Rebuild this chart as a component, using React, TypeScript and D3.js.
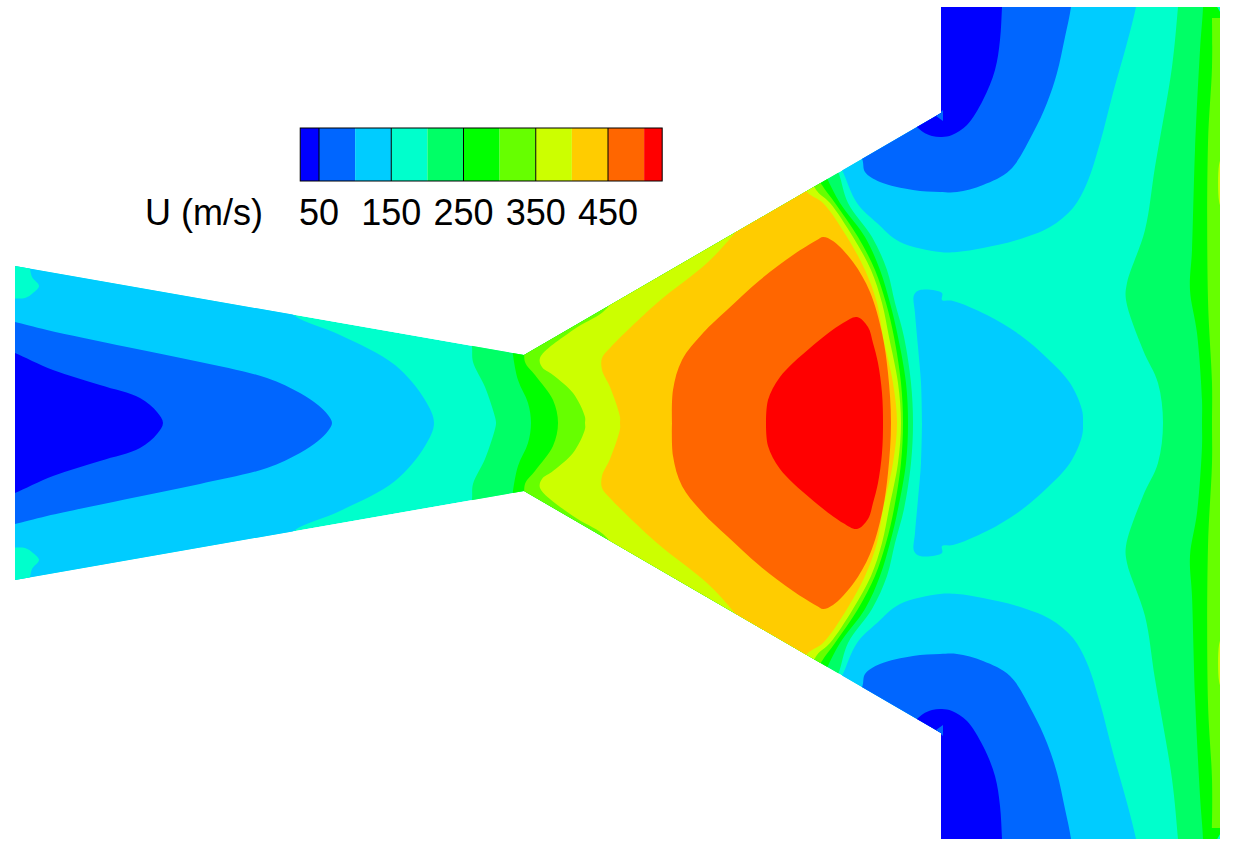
import React from "react";
import * as d3 from "d3";

type P = [number, number];

// Legend
const levelColors = ["#0000ff","#0066ff","#00ccff","#00ffcc","#00ff66","#00ff00","#66ff00","#ccff00","#ffcc00","#ff6600","#ff0000"];
const levelEdges = [24,50,100,150,200,250,300,350,400,450,500,525];
const tickValues = [50,150,250,350,450];

// Upper half of the symmetric duct: axial position, radial position (r = 0 on the axis)
const wall: P[] = [[15,157],[524,68],[941,310],[941,416],[1220,416]];

// Contours in the converging inlet
const inlet150: P[] = [[285,118],[295,107],[340,88],[395,58],[425,23],[434,0]];
const inlet100: P[] = [[5,103],[15,101],[47,93],[127,76],[200,61],[267,45],[300,30],[318,18],[328,8],[332,0]];
const inlet50: P[] = [[5,74],[15,70],[53,53],[100,38],[140,25],[157,11],[163,0]];
const inletCorner: P[] = [[10,165],[28,158],[32,146],[39,137],[33,130],[25,125],[10,125]];

// Contours rising through the throat (left flank of each level)
const rise200: P[] = [[470,90],[472,76],[473,61],[485,36],[495,6],[496,0]];
const rise250: P[] = [[512,80],[513,68],[518,43],[528,20],[531,0]];
const rise300: P[] = [[525,80],[525,61],[535,48],[553,23],[558,0]];
const rise350: P[] = [[615,125],[603,111],[573,93],[540,65],[542,56],[553,48],[573,30],[585,6],[585,0]];
const rise400: P[] = [[745,205],[733,188],[707,160],[657,120],[610,75],[602,65],[602,53],[610,36],[620,6],[620,0]];

// Same levels falling across the shock (right flank)
const shock200: P[] = [[832,265],[839,249],[848,220],[872,186],[887,153],[895,120],[904,86],[911,40],[913,0]];
const shock250: P[] = [[820,262],[827,245],[840,220],[865,186],[880,153],[890,120],[898,86],[906,40],[908,0]];
const shock300: P[] = [[813,255],[822,238],[835,220],[858,186],[875,153],[886,120],[894,86],[901,40],[903,0]];
const shock350: P[] = [[808,250],[817,232],[830,220],[853,186],[871,153],[882,120],[889,86],[898,40],[901,0]];
const shock400: P[] = [[798,245],[808,230],[823,220],[847,186],[865,153],[877,120],[883,86],[893,40],[897,0]];

// Closed cores
const core450: P[] = [[672,0],[673,33],[682,63],[703,90],[727,113],[760,143],[793,168],[817,183],[823,186],[833,182],[853,161],[870,131],[882,90],[888,50],[891,0]];
const core500: P[] = [[766,0],[768,23],[780,46],[810,75],[843,100],[857,106],[868,96],[873,80],[878,60],[882,30],[883,0]];
const bubble150: P[] = [[922,0],[921,40],[918,76],[915,110],[914,128],[920,133],[942,130],[942,123],[953,122],[987,108],[1020,88],[1047,65],[1070,40],[1082,13],[1083,0]];

// Recirculation zones behind the step
const zone150: P[] = [[835,265],[842,253],[857,220],[877,200],[900,181],[940,171],[957,171],[983,175],[1017,183],[1050,196],[1073,215],[1087,240],[1100,280],[1113,330],[1127,380],[1136,416],[1140,440]];
const zone100: P[] = [[855,270],[862,264],[865,251],[880,241],[913,233],[940,231],[957,231],[983,238],[1010,253],[1033,290],[1047,320],[1057,350],[1065,386],[1071,416],[1073,440]];
const zone50: P[] = [[912,300],[918,295],[923,291],[932,287],[942,286],[952,288],[967,298],[983,323],[995,353],[1000,383],[1002,416],[1003,440]];
const zoneNotch: P[] = [[936,307],[943,313],[943,302]];

// Outlet contours
const outlet200: P[] = [[1180,440],[1178,416],[1172,356],[1155,256],[1145,193],[1127,140],[1126,123],[1143,73],[1158,40],[1163,0]];
const outlet250: P[] = [[1203,440],[1203,416],[1200,373],[1195,273],[1192,173],[1190,133],[1197,90],[1202,23],[1202,0]];
const outlet300: P[] = [[1212,405],[1212,356],[1208,280],[1208,123],[1212,40],[1212,0]];
const outlet350: P[] = [[1222,268],[1219,258],[1219,222],[1222,212]];
const outletCorner: P[] = [[1216,418],[1222,418],[1222,408]];

const xS = d3.scaleLinear().domain([15, 1220]).range([15, 1220]);
const yS = d3.scaleLinear().domain([-416, 416]).range([839, 7]);
const legendX = d3.scaleLinear().domain([50, 450]).range([319, 608]);

const curve = d3.line<P>().x(d => xS(d[0])).y(d => yS(d[1])).curve(d3.curveCatmullRom.alpha(0.5));
const poly = d3.line<P>().x(d => xS(d[0])).y(d => yS(d[1]));
const blob = d3.line<P>().x(d => xS(d[0])).y(d => yS(d[1])).curve(d3.curveCatmullRomClosed.alpha(0.5));

const flip = (a: P[]): P[] => a.map(([x, r]) => [x, -r] as P);
// upper half, then its mirror image, running through the axis
const full = (half: P[]): P[] => [...half, ...flip(half.slice(0, -1)).reverse()];

const band = (left: P[], right: P[]) => {
  const l = curve(full(left))!;
  const r = curve(full(right).slice().reverse())!;
  return l + "L" + r.slice(1) + "Z";
};
const closeLeft = (c: P[]) => curve(full(c))! + "L" + xS(0) + "," + yS(-450) + "L" + xS(0) + "," + yS(450) + "Z";
const closeRight = (c: P[]) => {
  const f = full(c);
  return curve(f)! + "L" + xS(1235) + "," + yS(f[f.length - 1][1]) + "L" + xS(1235) + "," + yS(f[0][1]) + "Z";
};
const corner = (c: P[]) => {
  const first = c[0], last = c[c.length - 1];
  return curve(c)! + "L" + xS(first[0]) + "," + yS(last[1]) + "Z";
};
const both = (c: P[], fn: (c: P[]) => string) => fn(c) + fn(flip(c));

const C = {
  c50: levelColors[0], c100: levelColors[1], c150: levelColors[2], c200: levelColors[3],
  c250: levelColors[4], c300: levelColors[5], c350: levelColors[6], c400: levelColors[7],
  c450: levelColors[8], c500: levelColors[9], c550: levelColors[10],
};

const layers: [string, string][] = [
  [closeLeft(inlet150), C.c150],
  [both(inletCorner, c => curve(c)! + "Z"), C.c200],
  [closeLeft(inlet100), C.c100],
  [closeLeft(inlet50), C.c50],
  [band(rise200, shock200), C.c250],
  [band(rise250, shock250), C.c300],
  [band(rise300, shock300), C.c350],
  [band(rise350, shock350), C.c400],
  [band(rise400, shock400), C.c450],
  [blob(full(core450))!, C.c500],
  [blob(full(core500))!, C.c550],
  [blob(full(bubble150))!, C.c150],
  [both(zone150, corner), C.c150],
  [both(zone100, corner), C.c100],
  [both(zone50, corner), C.c50],
  [both(zoneNotch, c => poly(c)! + "Z"), C.c100],
  [closeRight(outlet200), C.c250],
  [closeRight(outlet250), C.c300],
  [closeRight(outlet300), C.c350],
  [both(outlet350, c => curve(c)! + "Z"), C.c400],
  [both(outletCorner, c => poly(c)! + "Z"), C.c200],
];

const FONT = "'Liberation Sans', Arial, sans-serif";

export default function App() {
  const outline = poly([...wall, ...flip(wall).reverse()])! + "Z";
  return (
    <svg width={1233} height={853} style={{ position: "absolute", left: 0, top: 0, background: "#fff" }}>
      <defs>
        <clipPath id="duct"><path d={outline} /></clipPath>
      </defs>
      <g clipPath="url(#duct)">
        <path d={outline} fill={C.c200} />
        {layers.map(([d, fill], i) => <path key={i} d={d} fill={fill} />)}
      </g>
      <g>
        {levelColors.map((c, i) => (
          <rect key={c} x={legendX(levelEdges[i])} y={128} width={legendX(levelEdges[i + 1]) - legendX(levelEdges[i])} height={53} fill={c} />
        ))}
        <rect x={legendX(levelEdges[0])} y={128} width={legendX(525) - legendX(24)} height={53} fill="none" stroke="#000" strokeWidth={1} />
        {tickValues.map(v => (
          <line key={v} x1={legendX(v)} x2={legendX(v)} y1={128} y2={181} stroke="#000" strokeWidth={1} />
        ))}
        {tickValues.map(v => (
          <text key={v} x={legendX(v)} y={225} textAnchor="middle" fontFamily={FONT} fontSize={36} fill="#000">{v}</text>
        ))}
        <text x={145} y={225} fontFamily={FONT} fontSize={36} fill="#000">U (m/s)</text>
      </g>
    </svg>
  );
}
